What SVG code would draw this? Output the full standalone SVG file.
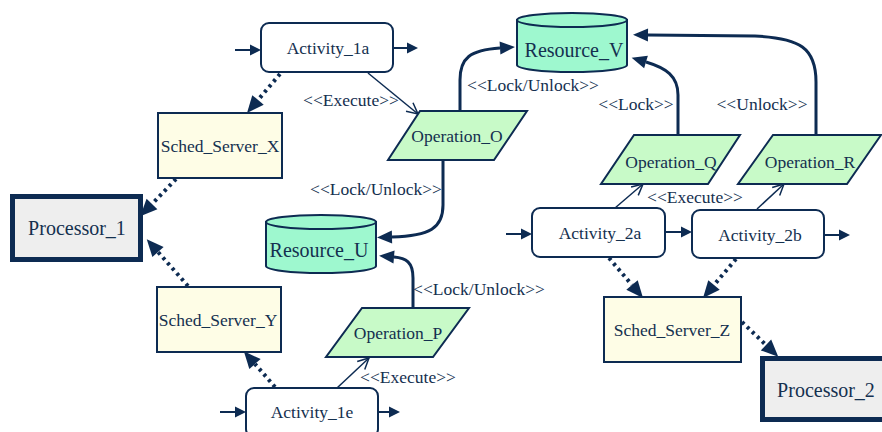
<svg xmlns="http://www.w3.org/2000/svg" width="882" height="432" viewBox="0 0 882 432" font-family="'Liberation Serif', 'DejaVu Serif', serif">
  <style>
    text { font-family: "Liberation Serif", "DejaVu Serif", serif; font-size: 17.5px; fill: #14304f; text-anchor: middle; dominant-baseline: central; }
    .big { font-size: 20px; }
    .act { fill: #ffffff; stroke: #0d2b52; stroke-width: 2; }
    .sched { fill: #fefde6; stroke: #0d2b52; stroke-width: 2; }
    .proc { fill: #eeeeee; stroke: #0d2b52; stroke-width: 5; }
    .res { fill: #9ef8cf; stroke: #0d2b52; stroke-width: 2; }
    .op { fill: #c8fac8; stroke: #0d2b52; stroke-width: 2; }
    .dot { fill: none; stroke: #0d2b52; stroke-width: 4; stroke-dasharray: 3 4; marker-end: url(#headBig); }
    .lock { fill: none; stroke: #0d2b52; stroke-width: 3; marker-end: url(#headMid); }
    .exec { fill: none; stroke: #0d2b52; stroke-width: 1.5; marker-end: url(#headOpen); }
    .flow { fill: none; stroke: #0d2b52; stroke-width: 2; marker-end: url(#headSmall); }
  </style>
  <defs>
    <marker id="headBig" markerUnits="userSpaceOnUse" markerWidth="17" markerHeight="15" refX="0" refY="7.5" orient="auto" overflow="visible">
      <path d="M0,0 L17,7.5 L0,15 z" fill="#0d2b52"/>
    </marker>
    <marker id="headMid" markerUnits="userSpaceOnUse" markerWidth="15" markerHeight="13" refX="0" refY="6.5" orient="auto" overflow="visible">
      <path d="M0,0 L15,6.5 L0,13 z" fill="#0d2b52"/>
    </marker>
    <marker id="headSmall" markerUnits="userSpaceOnUse" markerWidth="11" markerHeight="11" refX="0" refY="5.5" orient="auto" overflow="visible">
      <path d="M0,0 L11,5.5 L0,11 z" fill="#0d2b52"/>
    </marker>
    <marker id="headOpen" markerUnits="userSpaceOnUse" markerWidth="12" markerHeight="12" refX="11" refY="5.5" orient="auto" overflow="visible">
      <path d="M0,0 L11,5.5 L0,11" fill="none" stroke="#0d2b52" stroke-width="1.5"/>
    </marker>
  </defs>

  <!-- connectors -->
  <g id="connectors">
    <!-- activity flow -->
    <path class="flow" d="M235,50 L250,50"/>
    <path class="flow" d="M393,48 L407,48"/>
    <path class="flow" d="M220,412 L235,412"/>
    <path class="flow" d="M378,412 L389,412"/>
    <path class="flow" d="M506,234 L521,234"/>
    <path class="flow" d="M665,232 L681,232"/>
    <path class="flow" d="M824,235 L839,235"/>

    <!-- scheduling -->
    <path class="dot" d="M280,74 L258,100"/>
    <path class="dot" d="M176,179 L152,204"/>
    <path class="dot" d="M188,286 L158,252"/>
    <path class="dot" d="M275,387 L255,364"/>
    <path class="dot" d="M609,258 L632,285"/>
    <path class="dot" d="M736,259 L714,285"/>
    <path class="dot" d="M742,322 L766,345"/>

    <!-- execute -->
    <path class="exec" d="M368,73 L418,114"/>
    <path class="exec" d="M337,388 L369,358"/>
    <path class="exec" d="M615,208 L643,184"/>
    <path class="exec" d="M757,209 L784,184"/>

    <!-- resource access -->
    <path class="lock" d="M460,110 L460,80 C460,58 470,50 500,48"/>
    <path class="lock" d="M443,160 L443,205 C443,228 430,236 392,237"/>
    <path class="lock" d="M413,308 L413,278 C413,262 406,258 394,257"/>
    <path class="lock" d="M678,135 L678,95 C678,76 666,68 646,62"/>
    <path class="lock" d="M816,135 L816,82 C816,48 800,38 755,36 L648,35"/>

    <text x="351" y="100">&lt;&lt;Execute&gt;&gt;</text>
    <text x="533" y="85">&lt;&lt;Lock/Unlock&gt;&gt;</text>
    <text x="376" y="189">&lt;&lt;Lock/Unlock&gt;&gt;</text>
    <text x="479" y="289">&lt;&lt;Lock/Unlock&gt;&gt;</text>
    <text x="408" y="377">&lt;&lt;Execute&gt;&gt;</text>
    <text x="636" y="104">&lt;&lt;Lock&gt;&gt;</text>
    <text x="762" y="104">&lt;&lt;Unlock&gt;&gt;</text>
    <text x="695" y="197">&lt;&lt;Execute&gt;&gt;</text>
  </g>

  <!-- nodes -->
  <g id="Activity_1a">
    <rect class="act" x="261" y="23" width="132" height="49" rx="8"/>
    <text x="328" y="48">Activity_1a</text>
  </g>
  <g id="Activity_1e">
    <rect class="act" x="246" y="388" width="132" height="49" rx="8"/>
    <text x="312" y="412">Activity_1e</text>
  </g>
  <g id="Activity_2a">
    <rect class="act" x="532" y="208" width="133" height="49" rx="8"/>
    <text x="600" y="233">Activity_2a</text>
  </g>
  <g id="Activity_2b">
    <rect class="act" x="692" y="210" width="132" height="48" rx="8"/>
    <text x="760" y="235">Activity_2b</text>
  </g>

  <g id="Sched_Server_X">
    <rect class="sched" x="158" y="113" width="124" height="65"/>
    <text x="220" y="146">Sched_Server_X</text>
  </g>
  <g id="Sched_Server_Y">
    <rect class="sched" x="157" y="287" width="124" height="65"/>
    <text x="218" y="320">Sched_Server_Y</text>
  </g>
  <g id="Sched_Server_Z">
    <rect class="sched" x="604" y="297" width="137" height="65"/>
    <text x="672" y="330">Sched_Server_Z</text>
  </g>

  <g id="Processor_1">
    <rect class="proc" x="12.5" y="196.5" width="128" height="63"/>
    <text class="big" x="77" y="228">Processor_1</text>
  </g>
  <g id="Processor_2">
    <rect class="proc" x="762.5" y="358.5" width="128" height="61"/>
    <text class="big" x="826" y="390">Processor_2</text>
  </g>

  <g id="Resource_V">
    <path class="res" d="M517,20 L517,65 A55,7 0 0 0 627,65 L627,20 z"/>
    <ellipse class="res" cx="572" cy="20" rx="55" ry="7"/>
    <text class="big" x="574" y="50">Resource_V</text>
  </g>
  <g id="Resource_U">
    <path class="res" d="M266,222 L266,266 A55,7 0 0 0 376,266 L376,222 z"/>
    <ellipse class="res" cx="321" cy="222" rx="55" ry="7"/>
    <text class="big" x="319" y="250">Resource_U</text>
  </g>

  <g id="Operation_O">
    <polygon class="op" points="420,111 527,111 494,160 388,160"/>
    <text x="457" y="136">Operation_O</text>
  </g>
  <g id="Operation_P">
    <polygon class="op" points="362,308 469,308 433,357 326,357"/>
    <text x="398" y="333">Operation_P</text>
  </g>
  <g id="Operation_Q">
    <polygon class="op" points="634,135 740,135 708,184 601,184"/>
    <text x="671" y="162">Operation_Q</text>
  </g>
  <g id="Operation_R">
    <polygon class="op" points="773,135 881,135 847,184 738,184"/>
    <text x="810" y="162">Operation_R</text>
  </g>
</svg>
